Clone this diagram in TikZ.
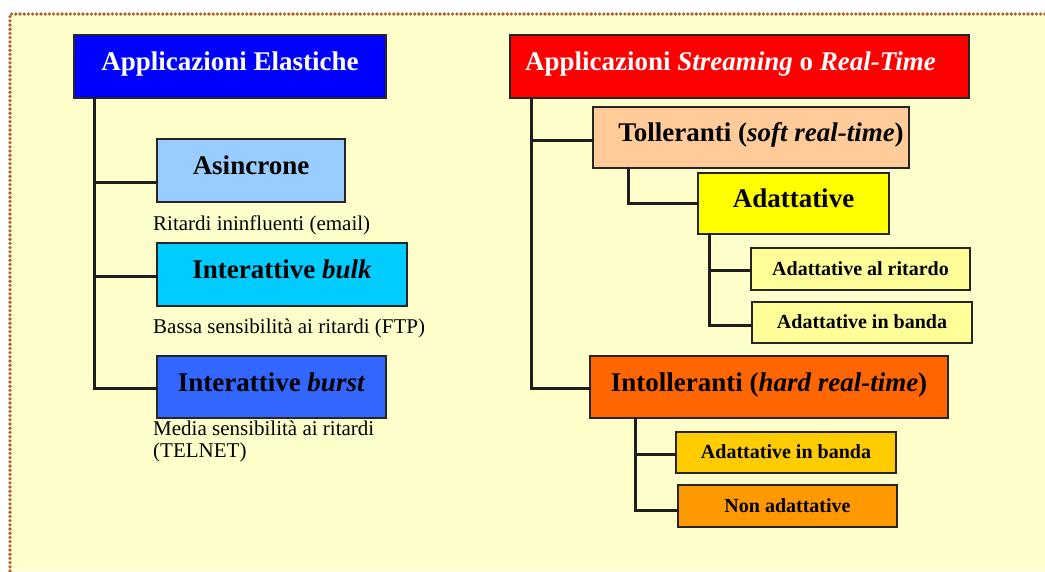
\documentclass[tikz,border=0pt]{standalone}
\usepackage{fontspec}
\setmainfont{Liberation Serif}

\definecolor{pagebg}{HTML}{FFFFCC}
\definecolor{dotbrown}{HTML}{B0602A}
\definecolor{boxline}{HTML}{262626}
\definecolor{connline}{HTML}{1E1E1E}
\definecolor{cElastic}{HTML}{0000FF}
\definecolor{cAsync}{HTML}{99CCFF}
\definecolor{cBulk}{HTML}{00CCFF}
\definecolor{cBurst}{HTML}{3366FF}
\definecolor{cStream}{HTML}{FF0000}
\definecolor{cSoft}{HTML}{FFCC99}
\definecolor{cAdapt}{HTML}{FFFF00}
\definecolor{cAdaptSub}{HTML}{FFFF99}
\definecolor{cHard}{HTML}{FF6600}
\definecolor{cBand}{HTML}{FFCC00}
\definecolor{cNonAd}{HTML}{FF9900}

\begin{document}
\begin{tikzpicture}[x=1pt,y=-1pt,
  box/.style={draw=boxline, line width=1.6pt, inner sep=0pt, anchor=center},
  bigbox/.style={box, font=\fontsize{27}{30}\selectfont\bfseries,
                 text height=18pt, text depth=10pt},
  smallbox/.style={box, font=\fontsize{20}{24}\selectfont\bfseries,
                   text height=13pt, text depth=1pt},
  note/.style={font=\fontsize{21}{24}\selectfont, anchor=base west, inner sep=0pt},
  conn/.style={draw=connline, line width=3pt, line cap=rect, line join=miter},
  dots/.style={draw=dotbrown, line width=3.6pt, line cap=round,
               dash pattern=on 0pt off 4.2pt}]

\useasboundingbox (0,0) rectangle (1045,571);

% page background with dotted frame
\fill[pagebg] (10,14) rectangle (1045,571);
\draw[dots] (10,571) -- (10,14) -- (1045,14);

% ---------- elastic applications ----------
\node[bigbox, fill=cElastic, text=white, minimum width=312pt, minimum height=63pt]
  (ela) at (230,66.5) {Applicazioni Elastiche};
\node[bigbox, fill=cAsync, minimum width=188pt, minimum height=63pt]
  (asin) at (251,170.5) {Asincrone};
\node[bigbox, fill=cBulk, minimum width=250pt, minimum height=63pt]
  (bulk) at (282,274.5) {Interattive \textit{bulk}};
\node[bigbox, fill=cBurst, minimum width=229pt, minimum height=62pt]
  (burst) at (271.5,387) {Interattive \textit{burst}};

\node[note] (nasin) at (153,230) {Ritardi ininfluenti (email)};
\node[note] (nbulk) at (153,333) {Bassa sensibilità ai ritardi (FTP)};
\node[note] (nburst) at (153,435) {Media sensibilità ai ritardi};
\node[note] (nburstb) at (153,457) {(TELNET)};

% ---------- streaming / real-time applications ----------
\node[bigbox, fill=cStream, text=white, minimum width=459pt, minimum height=63pt]
  (real) at (739.5,66.5) {Applicazioni \textit{Streaming} o \textit{Real-Time}\hspace*{18pt}};
\node[bigbox, fill=cSoft, minimum width=316pt, minimum height=61pt]
  (toll) at (751,137.5) {\hspace*{20pt}Tolleranti (\textit{soft real-time})};
\node[bigbox, fill=cAdapt, minimum width=191pt, minimum height=61pt]
  (adat) at (793.5,203.5) {Adattative};
\node[smallbox, fill=cAdaptSub, minimum width=219pt, minimum height=42pt]
  (adrit) at (860.5,269) {Adattative al ritardo};
\node[smallbox, fill=cAdaptSub, minimum width=220pt, minimum height=41pt]
  (adban) at (862,322.5) {Adattative in banda};
\node[bigbox, fill=cHard, minimum width=358pt, minimum height=62pt]
  (intol) at (769,387) {Intolleranti (\textit{hard real-time})};
\node[smallbox, fill=cBand, minimum width=220pt, minimum height=41pt]
  (adban2) at (786,452.5) {Adattative in banda};
\node[smallbox, fill=cNonAd, minimum width=219pt, minimum height=42pt]
  (nonad) at (787.5,506) {Non adattative};

% ---------- connectors ----------
% elastic branch
\coordinate (lt) at ([xshift=21pt]ela.south west);
\coordinate (aj) at ([yshift=-11.5pt]asin.west);
\coordinate (bj) at ([yshift=-1.5pt]bulk.west);
\coordinate (cj) at ([yshift=-1pt]burst.west);
\draw[conn] (lt) |- (cj);
\draw[conn] (aj -| lt) -- (aj);
\draw[conn] (bj -| lt) -- (bj);

% streaming branch
\coordinate (rt) at ([xshift=22pt]real.south west);
\coordinate (tj) at ([yshift=-2.5pt]toll.west);
\coordinate (ij) at ([yshift=-1pt]intol.west);
\draw[conn] (rt) |- (ij);
\draw[conn] (tj -| rt) -- (tj);

% tolerant -> adaptive
\coordinate (tt) at ([xshift=36pt]toll.south west);
\draw[conn] (tt) |- (adat.west);

% adaptive -> sub cases
\coordinate (at) at ([xshift=12pt]adat.south west);
\coordinate (arj) at ([yshift=-1pt]adrit.west);
\coordinate (abj) at ([yshift=-2.5pt]adban.west);
\draw[conn] (at) |- (abj);
\draw[conn] (arj -| at) -- (arj);

% intolerant -> sub cases
\coordinate (it) at ([xshift=46pt]intol.south west);
\coordinate (b2j) at ([yshift=-1.5pt]adban2.west);
\coordinate (nj) at ([yshift=-4pt]nonad.west);
\draw[conn] (it) |- (nj);
\draw[conn] (b2j -| it) -- (b2j);

\end{tikzpicture}
\end{document}
